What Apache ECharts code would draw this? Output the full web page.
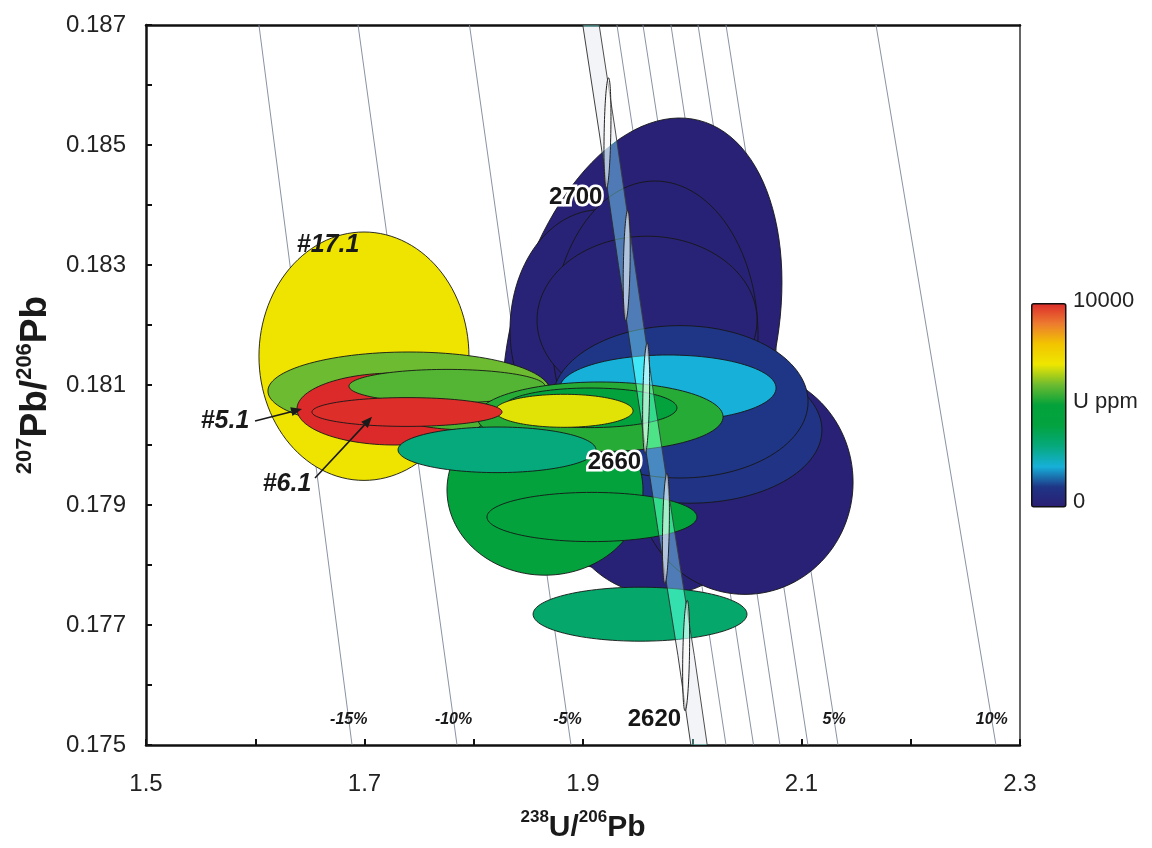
<!DOCTYPE html>
<html><head><meta charset="utf-8">
<script src="https://cdn.jsdelivr.net/npm/echarts@6/dist/echarts.min.js"></script>
<style>html,body{margin:0;padding:0;background:#fff}#c{width:1152px;height:848px}</style>
</head><body><div id="c"></div>
<script>
// ---------- data ----------
const xTickLabels = ['1.5','1.7','1.9','2.1','2.3'];
const yTickLabels = ['0.175','0.177','0.179','0.181','0.183','0.185','0.187'];

// analysis spots (drawing order back -> front): centre, semi-axes, error correlation, U ppm
const spotName = ['a','b','c','d','e','f','g','h','i','17.1','k','5.1','m','n','o','p','q','r','s','t','6.1','v'];
const spotX   = [1.9540,1.9156,1.9659,1.9586,1.9705,2.0483,1.9979,1.9888,1.9778,1.6995,1.7407,1.7279,1.7966,1.7755,1.8652,1.9082,1.9156,1.9064,1.8826,1.8213,1.7389,1.9522];
const spotY   = [0.18170,0.18192,0.18183,0.18208,0.17942,0.17938,0.18025,0.18072,0.18095,0.18148,0.18090,0.18060,0.18058,0.18098,0.17925,0.17880,0.18047,0.18062,0.18057,0.17992,0.18055,0.17718];
const spotSX  = [0.1281,0.0824,0.0943,0.1007,0.0961,0.0989,0.1208,0.1172,0.0989,0.0961,0.1291,0.0897,0.0732,0.0897,0.0897,0.0961,0.1126,0.0796,0.0632,0.0906,0.0870,0.0979];
const spotSY  = [0.00375,0.00200,0.00257,0.00140,0.00192,0.00187,0.00122,0.00127,0.00055,0.00207,0.00065,0.00060,0.00033,0.00028,0.00142,0.00041,0.00058,0.00033,0.000275,0.00038,0.00024,0.00045];
const spotRho = [0.27,0,0,0,0,0,0,0,0,0,0,0,0,0,0,0,0,0,0,0,0,0];
const spotU   = [150,200,180,220,160,120,900,1000,2000,7050,6000,10000,5700,5750,4600,4600,5340,4600,6900,3000,9950,3300];

// U ppm colour scale (0 .. 10000)
const uMin = 0, uMax = 10000;
const uColors = ['#2a1e73','#1f3586','#16b0d8','#06a97c','#02a340','#03a23b','#6dbb30','#eee600','#f2c400','#ec7a30','#dc2a2a'];

// concordia (Tera-Wasserburg) age points and band
const conAge = [2620,2640,2660,2680,2700];
const conX   = [1.9944,1.9759,1.9578,1.9400,1.9224];
const conY   = [0.17649,0.17861,0.18078,0.18299,0.18520];
const conLabelled = [2620,2660,2700];
const markerSX = 0.0032, markerSY = 0.00092, markerRho = 0.3;
const bandY = [0.187,0.18520,0.18299,0.18078,0.17861,0.17649,0.175];
const bandX = [1.9073,1.9224,1.9400,1.9578,1.9759,1.9944,2.0062];
const bandHalfW = 0.0075;

// discordance reference lines (x at y = 0.187 and at y = 0.175)
const discPct   = [-15,-10,-5,1,2,3,4,5,10];
const discTopX  = [1.6034,1.6941,1.7961,1.9311,1.9549,1.9805,2.0053,2.0309,2.1682];
const discBotX  = [1.6886,1.7847,1.8890,2.0309,2.0561,2.0803,2.1059,2.1334,2.2780];
const discLabel = ['-15%','-10%','-5%','','','','','5%','10%'];
const discLabelY = 0.17542;

// annotations
const annoText = ['#17.1','#5.1','#6.1'];
const annoX = [1.6666,1.5723,1.6291];
const annoY = [0.18333,0.18040,0.17935];
const arrowX1 = [1.5998,1.6547], arrowY1 = [0.18040,0.17945];
const arrowX2 = [1.6428,1.7069], arrowY2 = [0.18060,0.18047];

// ---------- chart ----------
const FONT = 'Liberation Sans, Arial, sans-serif';
const chart = echarts.init(document.getElementById('c'), null, {renderer:'canvas'});

function ellipsePts(api, cx, cy, sx, sy, rho, n){
  const pts = [], s = Math.sqrt(1 - rho*rho);
  for (let k = 0; k < n; k++){
    const t = 2*Math.PI*k/n, c = Math.cos(t), si = Math.sin(t);
    pts.push(api.coord([cx + sx*c, cy + sy*(rho*c + s*si)]));
  }
  return pts;
}
function bandEdges(api){
  const left = bandY.map((y,i) => api.coord([bandX[i]-bandHalfW, y]));
  const right = bandY.map((y,i) => api.coord([bandX[i]+bandHalfW, y]));
  return {left, right, poly:left.concat(right.slice().reverse())};
}

const richX = {
  b:   {fontSize:30, fontWeight:'bold', fontFamily:FONT, color:'#1a1a1a', verticalAlign:'bottom', lineHeight:34},
  sup: {fontSize:17, fontWeight:'bold', fontFamily:FONT, color:'#1a1a1a', verticalAlign:'top', lineHeight:34}
};
const richY = {
  b:   {fontSize:37, fontWeight:'bold', fontFamily:FONT, color:'#1a1a1a', verticalAlign:'bottom', lineHeight:40},
  sup: {fontSize:22, fontWeight:'bold', fontFamily:FONT, color:'#1a1a1a', verticalAlign:'top', lineHeight:40}
};

const spotData = spotX.map((_, i) => [spotX[i], spotY[i], spotSX[i], spotSY[i], spotRho[i], spotU[i]]);

const option = {
  animation:false,
  backgroundColor:'#fff',
  grid:{left:146, top:25, width:874, height:720},
  visualMap:{type:'continuous', show:false, min:uMin, max:uMax, dimension:5, seriesIndex:1, inRange:{color:uColors}},
  xAxis:[{
    type:'value', min:1.5, max:2.3, interval:0.1, position:'bottom',
    axisLine:{onZero:false, lineStyle:{color:'#111', width:2.5}},
    axisTick:{inside:true, length:6, lineStyle:{color:'#111', width:2}},
    axisLabel:{formatter:v => { const s = v.toFixed(1); return xTickLabels.includes(s) ? s : ''; }, fontSize:24, color:'#222', margin:27, fontFamily:FONT},
    splitLine:{show:false},
    name:'{sup|238}{b|U/}{sup|206}{b|Pb}', nameLocation:'middle', nameGap:64,
    nameTextStyle:{rich:richX}
  },{
    type:'value', min:1.5, max:2.3, position:'top',
    axisLine:{onZero:false, lineStyle:{color:'#111', width:2.5}},
    axisTick:{show:false}, axisLabel:{show:false}, splitLine:{show:false}
  }],
  yAxis:[{
    type:'value', min:0.175, max:0.187, interval:0.001, position:'left',
    axisLine:{onZero:false, lineStyle:{color:'#111', width:2.5}},
    axisTick:{inside:true, length:6, lineStyle:{color:'#111', width:2}},
    axisLabel:{formatter:v => { const s = v.toFixed(3); return yTickLabels.includes(s) ? s : ''; }, fontSize:24, color:'#222', margin:20, fontFamily:FONT},
    splitLine:{show:false},
    name:'{sup|207}{b|Pb/}{sup|206}{b|Pb}', nameLocation:'middle', nameGap:92, nameRotate:90,
    nameTextStyle:{rich:richY}
  },{
    type:'value', min:0.175, max:0.187, position:'right',
    axisLine:{onZero:false, lineStyle:{color:'#666', width:2}},
    axisTick:{show:false}, axisLabel:{show:false}, splitLine:{show:false}
  }],
  graphic:[
    {type:'rect', left:1031, top:303, shape:{width:34, height:203, r:2}, z:100,
     style:{fill:{type:'linear', x:0, y:1, x2:0, y2:0, colorStops:uColors.map((c,i)=>({offset:i/(uColors.length-1), color:c}))}, stroke:'#111', lineWidth:1.5}},
    {type:'text', left:1073, top:290, z:100, style:{text:String(uMax), fontSize:22, fontFamily:FONT, fill:'#222'}},
    {type:'text', left:1073, top:391, z:100, style:{text:'U ppm', fontSize:22, fontFamily:FONT, fill:'#222'}},
    {type:'text', left:1073, top:491, z:100, style:{text:String(uMin), fontSize:22, fontFamily:FONT, fill:'#222'}}
  ],
  series:[
    { // discordance lines
      type:'custom', coordinateSystem:'cartesian2d', z:1,
      data:discPct.map((_, i) => [i]),
      renderItem:(params, api) => {
        const i = api.value(0);
        const p1 = api.coord([discTopX[i], 0.187]);
        const p2 = api.coord([discBotX[i], 0.175]);
        const children = [{type:'line', shape:{x1:p1[0], y1:p1[1], x2:p2[0], y2:p2[1]}, style:{stroke:'#7b8796', lineWidth:0.9}}];
        if (discLabel[i]) {
          const f = (0.187 - discLabelY)/(0.187 - 0.175);
          const p = api.coord([discTopX[i] + f*(discBotX[i]-discTopX[i]), discLabelY]);
          children.push({type:'text', z2:5, style:{text:discLabel[i], x:p[0], y:p[1], align:'center', verticalAlign:'middle',
            fontSize:16, fontWeight:'bold', fontStyle:'italic', fontFamily:FONT, fill:'#1a1a1a'}});
        }
        return {type:'group', children};
      }
    },
    { // U-Pb spots
      type:'custom', coordinateSystem:'cartesian2d', z:2,
      data:spotData,
      encode:{x:0, y:1},
      renderItem:(params, api) => {
        const pts = ellipsePts(api, api.value(0), api.value(1), api.value(2), api.value(3), api.value(4), 120);
        return {type:'polygon', shape:{points:pts}, style:{fill:api.visual('color'), stroke:'#161616', lineWidth:0.9}};
      }
    },
    { // concordia band (additive tint)
      type:'custom', coordinateSystem:'cartesian2d', z:3, blendMode:'lighter',
      data:[[0]],
      renderItem:(params, api) => {
        const e = bandEdges(api);
        return {type:'polygon', shape:{points:e.poly}, style:{fill:'rgb(0,62,52)'}};
      }
    },
    { // concordia band (veil + edges)
      type:'custom', coordinateSystem:'cartesian2d', z:3,
      data:[[0]],
      renderItem:(params, api) => {
        const e = bandEdges(api);
        return {type:'group', children:[
          {type:'polygon', shape:{points:e.poly}, style:{fill:'rgba(205,210,220,0.24)'}},
          {type:'polyline', shape:{points:e.left}, style:{stroke:'#2a2a2a', lineWidth:0.9, fill:null}},
          {type:'polyline', shape:{points:e.right}, style:{stroke:'#3a3a3a', lineWidth:0.9, fill:null}}
        ]};
      }
    },
    { // concordia age markers
      type:'custom', coordinateSystem:'cartesian2d', z:4,
      data:conAge.map((_, i) => [conX[i], conY[i], i]),
      encode:{x:0, y:1},
      renderItem:(params, api) => {
        const pts = ellipsePts(api, api.value(0), api.value(1), markerSX, markerSY, markerRho, 80);
        return {type:'polygon', shape:{points:pts}, style:{fill:'rgba(255,255,255,0.55)', stroke:'#222', lineWidth:1}};
      }
    },
    { // age labels
      type:'custom', coordinateSystem:'cartesian2d', z:6,
      data:conAge.map((_, i) => [conX[i], conY[i], i]),
      encode:{x:0, y:1},
      renderItem:(params, api) => {
        const i = api.value(2);
        if (!conLabelled.includes(conAge[i])) return null;
        const p = api.coord([api.value(0), api.value(1)]);
        const base = {text:String(conAge[i]), x:p[0]-5, y:p[1]+64, align:'right', verticalAlign:'middle', fontSize:24, fontWeight:'bold', fontFamily:FONT};
        return {type:'group', children:[
          {type:'text', style:Object.assign({}, base, {fill:'#fff', stroke:'#fff', lineWidth:5})},
          {type:'text', style:Object.assign({}, base, {fill:'#161616'})}
        ]};
      }
    },
    { // spot annotations
      type:'custom', coordinateSystem:'cartesian2d', z:7,
      data:annoText.map((_, i) => [annoX[i], annoY[i], i]),
      encode:{x:0, y:1},
      renderItem:(params, api) => {
        const i = api.value(2);
        const p = api.coord([api.value(0), api.value(1)]);
        const children = [{type:'text', style:{text:annoText[i], x:p[0], y:p[1], align:'center', verticalAlign:'middle',
          fontSize:25, fontWeight:'bold', fontStyle:'italic', fontFamily:FONT, fill:'#1a1a1a'}}];
        const j = i - 1;
        if (j >= 0) {
          const a = api.coord([arrowX1[j], arrowY1[j]]), b = api.coord([arrowX2[j], arrowY2[j]]);
          const dx = b[0]-a[0], dy = b[1]-a[1], L = Math.hypot(dx, dy), ux = dx/L, uy = dy/L;
          const hl = 11, hw = 4.5;
          const base = [b[0]-ux*hl, b[1]-uy*hl];
          children.push({type:'line', shape:{x1:a[0], y1:a[1], x2:base[0], y2:base[1]}, style:{stroke:'#1a1a1a', lineWidth:1.6}});
          children.push({type:'polygon', shape:{points:[b, [base[0]-uy*hw, base[1]+ux*hw], [base[0]+uy*hw, base[1]-ux*hw]]}, style:{fill:'#1a1a1a'}});
        }
        return {type:'group', children};
      }
    }
  ]
};
chart.setOption(option);
</script>
</body></html>
